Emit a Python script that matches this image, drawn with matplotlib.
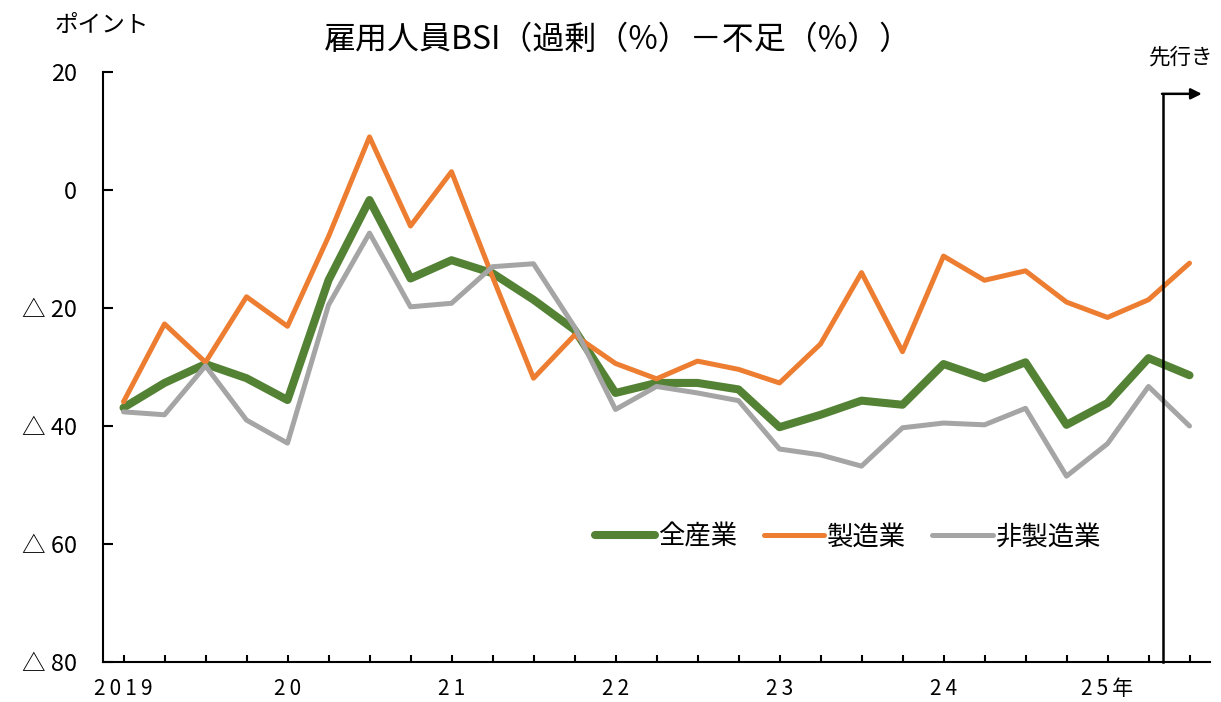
import matplotlib
matplotlib.use("Agg")
import matplotlib.pyplot as plt

plt.rcParams['font.family'] = ['Noto Sans CJK JP', 'DejaVu Sans']

quarters = list(range(27))  # 2019Q1 .. 2025Q3
all_industries = [-36.9, -32.7, -29.5, -31.9, -35.6, -15.3, -1.7, -15.0, -11.9, -14.1, -18.6, -23.7,
                  -34.4, -32.7, -32.7, -33.8, -40.2, -38.1, -35.7, -36.4, -29.5, -31.9, -29.2, -39.8,
                  -36.1, -28.5, -31.4]
manufacturing = [-35.9, -22.7, -29.2, -18.1, -23.1, -7.9, 9.0, -6.1, 3.1, -14.7, -31.9, -24.6,
                 -29.4, -32.0, -29.0, -30.4, -32.7, -26.1, -14.0, -27.4, -11.2, -15.3, -13.7, -19.0,
                 -21.6, -18.6, -12.4]
non_manufacturing = [-37.6, -38.1, -29.8, -39.0, -42.9, -19.5, -7.3, -19.8, -19.2, -13.0, -12.5, -23.2,
                     -37.2, -33.3, -34.4, -35.7, -43.9, -44.9, -46.8, -40.3, -39.5, -39.8, -37.0, -48.5,
                     -43.0, -33.3, -40.0]
series_names = ['全産業', '製造業', '非製造業']
x_label_pos = [0, 4, 8, 12, 16, 20, 24]
x_labels = ['2019', '20', '21', '22', '23', '24', '25年']
y_ticks = [20, 0, -20, -40, -60, -80]
y_labels = ['20', '0', '△ 20', '△ 40', '△ 60', '△ 80']
forecast_x = 25.35

fig = plt.figure(figsize=(12.21, 7.02), dpi=100)
ax = fig.add_axes([103/1221, 1-662/702, (1210-103)/1221, (662-72)/702])

ax.plot(quarters, all_industries, color='#548235', lw=5.8, solid_capstyle='round',
        solid_joinstyle='round', label=series_names[0], zorder=3)
ax.plot(quarters, manufacturing, color='#ED7D31', lw=3.6, solid_capstyle='round',
        solid_joinstyle='round', label=series_names[1], zorder=4)
ax.plot(quarters, non_manufacturing, color='#A5A5A5', lw=3.6, solid_capstyle='round',
        solid_joinstyle='round', label=series_names[2], zorder=4)

ax.set_xlim(-0.5, 26.5)
ax.set_ylim(-80, 20)
ax.set_yticks(y_ticks)
ax.set_yticklabels(y_labels, fontsize=17)
ax.set_xticks(quarters)
ax.set_xticklabels(['' for _ in quarters])
for p, lab in zip(x_label_pos, x_labels):
    spaced = '\u2009'.join(lab)
    ax.text(p, -84.6, spaced, ha='center', va='center', fontsize=15, clip_on=False)

ax.tick_params(axis='y', direction='in', length=7, width=1.5, pad=19)
ax.tick_params(axis='x', direction='in', length=5, width=1.5)
for s in ['top', 'right']:
    ax.spines[s].set_visible(False)
for s in ['left', 'bottom']:
    ax.spines[s].set_linewidth(1.5)

# forecast marker
ax.plot([forecast_x, forecast_x], [-80, 16.3], color='black', lw=1.8, clip_on=False, zorder=5)
ax.annotate('', xy=(26.3, 16.3), xytext=(forecast_x - 0.02, 16.3),
            arrowprops=dict(arrowstyle='-|>', color='black', lw=1.8, mutation_scale=16,
                            shrinkA=0, shrinkB=0), annotation_clip=False)
ax.text(25.8, 22.4, '先行き', ha='center', va='center', fontsize=15.5, clip_on=False)

fig.text(618/1221, 1-40/702, '雇用人員BSI（過剰（%）－不足（%））', ha='center', va='center',
         fontsize=23)
fig.text(102/1221, 1-25/702, 'ポイント', ha='center', va='center', fontsize=17)

ax.legend(loc='center', bbox_to_anchor=(848/1221, 1-537/702), bbox_transform=fig.transFigure,
          ncol=3, frameon=False, fontsize=19, handlelength=2.3, handletextpad=0.1,
          columnspacing=1.0)

fig.savefig('out.png', dpi=100)
